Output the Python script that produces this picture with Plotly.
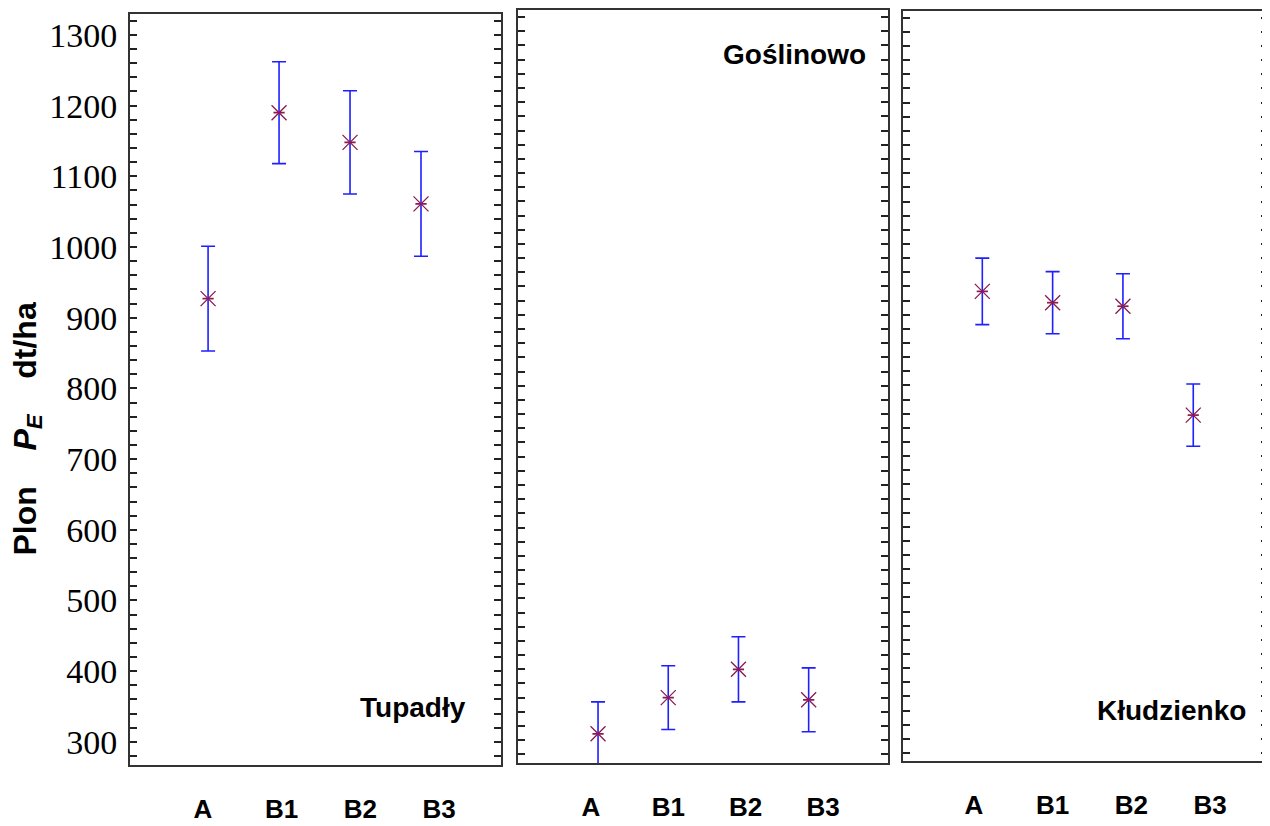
import plotly.graph_objects as go

# ---------------- data ----------------
categories = ["A", "B1", "B2", "B3"]
sites = ["Tupadły", "Goślinowo", "Kłudzienko"]

tupadly_mean = [927, 1190, 1148, 1061]
tupadly_err = [74, 72, 73, 74]

goslinowo_mean = [309, 360, 400, 357]
goslinowo_err = [45, 45, 46, 45]

kludzienko_mean = [933, 917, 912, 758]
kludzienko_err = [47, 44, 46, 44]

y_tick_values = [300, 400, 500, 600, 700, 800, 900, 1000, 1100, 1200, 1300]
y_tick_text = [str(v) for v in y_tick_values]
y_title = "Plon&nbsp;&nbsp;&nbsp;&nbsp;<i>P</i><sub><i>E</i></sub>&nbsp;&nbsp;&nbsp;&nbsp;dt/ha"

means = [tupadly_mean, goslinowo_mean, kludzienko_mean]
errs = [tupadly_err, goslinowo_err, kludzienko_err]

# ---------------- layout geometry (reference pixels) ----------------
W, H = 1270, 826
OFF = 8                      # page body margin of the html page
FW, FH = W - OFF, H - OFF    # figure size so that it fits in the window


def fx(px):
    return (px - OFF) / FW


def fy(py):
    return 1 - (py - OFF) / FH


panels = [  # left, right, top, bottom
    (130, 501, 12, 765),
    (518, 888, 8, 763),
    (903, 1268, 9, 761),
]
y_ranges = [[267.1, 1329.6], [267.6, 1330.0], [268.5, 1329.6]]
x_ranges = [[-1.10, 4.127], [-1.14, 4.13], [-1.128, 4.063]]
label_ranges = [[-0.928, 3.788], [-0.944, 3.84], [-0.902, 3.737]]
site_pos = [(468, 707), (868, 53), (1248, 710)]

ERR_COLOR = "#1f1fff"
MARK_COLOR = "#8b1a4f"
FRAME = "#333333"
SANS = "Liberation Sans, Arial, sans-serif"
SERIF = "Liberation Serif, Times New Roman, serif"

fig = go.Figure()

layout = dict(
    width=FW, height=FH,
    margin=dict(l=0, r=0, t=0, b=0),
    paper_bgcolor="white", plot_bgcolor="white",
    showlegend=False,
    annotations=[],
)

for i in range(3):
    n = i + 1
    sx = "" if n == 1 else str(n)
    xname, yname = "x" + sx, "y" + sx
    lname = "x" + str(n + 3)
    L, R, T, B = panels[i]
    xdom = [max(0, fx(L)), min(1, fx(R))]
    ydom = [max(0, fy(B)), min(1, fy(T))]

    # error bars + X marker
    fig.add_trace(go.Scatter(
        x=categories, y=means[i], mode="markers",
        xaxis=xname, yaxis=yname,
        marker=dict(symbol="x-thin-open", size=15, color=MARK_COLOR,
                    line=dict(color=MARK_COLOR, width=1.3)),
        error_y=dict(type="data", array=errs[i], symmetric=True,
                     color=ERR_COLOR, thickness=1.6, width=7),
        hoverinfo="skip",
    ))
    # horizontal bar of the asterisk
    fig.add_trace(go.Scatter(
        x=categories, y=means[i], mode="markers",
        xaxis=xname, yaxis=yname,
        marker=dict(symbol="line-ew-open", size=8, color=MARK_COLOR,
                    line=dict(color=MARK_COLOR, width=1.7)),
        hoverinfo="skip",
    ))
    # empty trace so the category-label axis is drawn
    fig.add_trace(go.Scatter(
        x=[], y=[], mode="markers", xaxis=lname, yaxis=yname,
        hoverinfo="skip",
    ))

    layout["xaxis" + sx] = dict(
        domain=xdom, anchor=yname, type="category",
        categoryorder="array", categoryarray=categories,
        range=x_ranges[i], showticklabels=False, ticks="",
        showgrid=False, zeroline=False,
        showline=True, linecolor=FRAME, linewidth=2, mirror=True,
    )
    layout["yaxis" + sx] = dict(
        domain=ydom, anchor=xname, range=y_ranges[i],
        tickmode="array", tickvals=y_tick_values, ticktext=y_tick_text,
        showticklabels=(i == 0),
        tickfont=dict(family=SERIF, size=34, color="black"),
        ticks="inside", ticklen=7, tickwidth=1.5, tickcolor="#222222",
        minor=dict(dtick=20, ticks="inside", ticklen=3.5, tickwidth=1.5,
                   tickcolor="#222222", showgrid=False),
        ticklabelstandoff=4,
        showgrid=False, zeroline=False,
        showline=True, linecolor=FRAME, linewidth=2, mirror="allticks",
    )
    # category labels (placed as in the original figure)
    layout["xaxis" + str(n + 3)] = dict(
        domain=xdom, anchor=yname, overlaying=xname, side="bottom",
        type="linear", range=label_ranges[i], tickmode="array",
        tickvals=list(range(len(categories))), ticktext=categories,
        tickfont=dict(family=SANS, size=26, color="black", weight="bold"),
        ticks="", showline=False, showgrid=False, zeroline=False,
        ticklabelstandoff=26,
    )

    px, py = site_pos[i]
    layout["annotations"].append(dict(
        text=sites[i], xref="paper", yref="paper",
        x=fx(px), y=fy(py), xanchor="right", yanchor="middle",
        showarrow=False,
        font=dict(family=SANS, size=28, color="black", weight="bold"),
    ))

layout["annotations"].append(dict(
    text=y_title, xref="paper", yref="paper",
    x=fx(27), y=fy(428.5), xanchor="center", yanchor="middle",
    textangle=-90, showarrow=False,
    font=dict(family=SANS, size=32, color="black", weight="bold"),
))

fig.update_layout(**layout)
fig.write_html("out.html")
